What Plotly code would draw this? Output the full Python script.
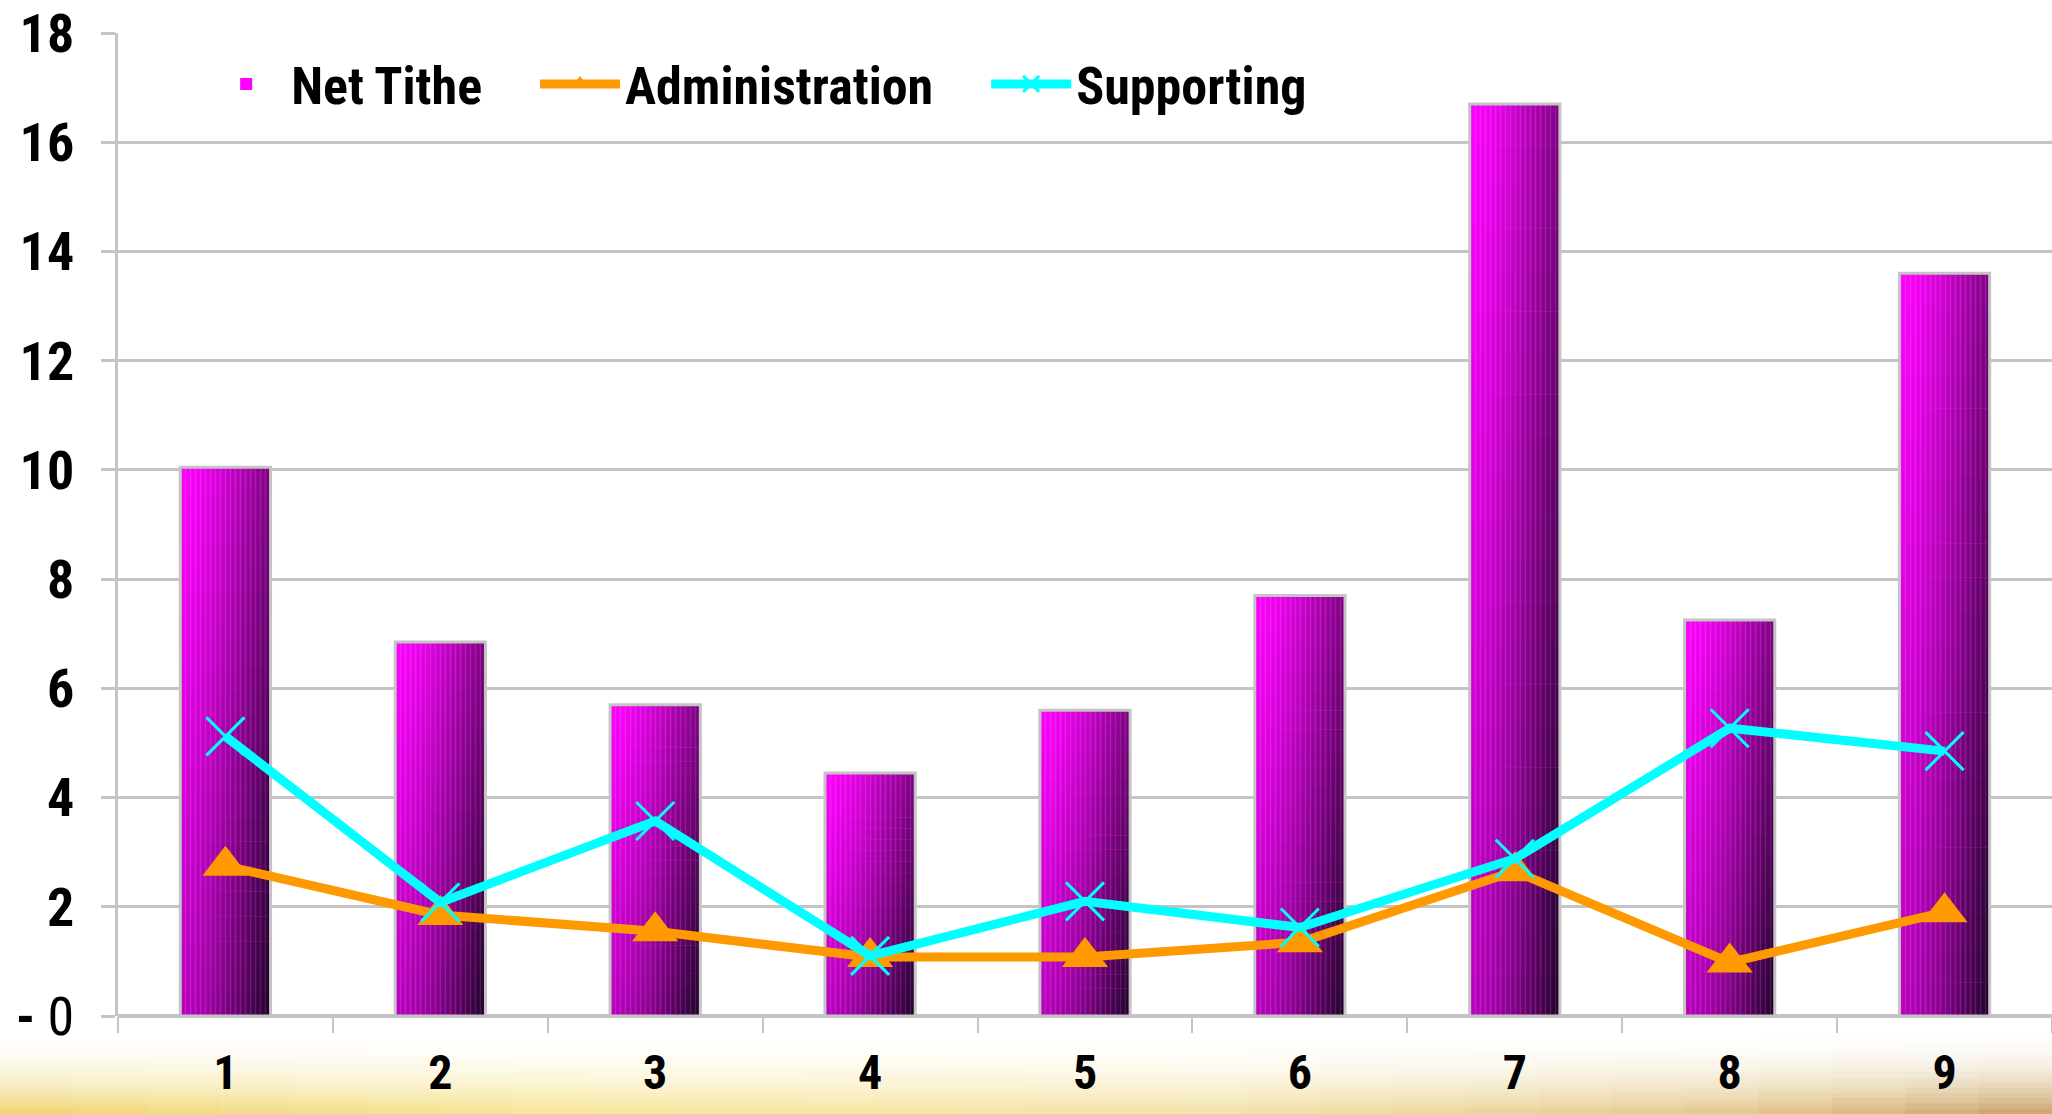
import plotly.graph_objects as go

# ---------------- data ----------------
categories = ["1", "2", "3", "4", "5", "6", "7", "8", "9"]
net_tithe = [10.05, 6.85, 5.7, 4.45, 5.6, 7.7, 16.7, 7.25, 13.6]
administration = [2.75, 1.85, 1.55, 1.08, 1.08, 1.35, 2.65, 0.98, 1.9]
supporting = [5.12, 2.08, 3.57, 1.1, 2.1, 1.62, 2.88, 5.27, 4.85]
y_tick_values = [0, 2, 4, 6, 8, 10, 12, 14, 16, 18]
y_tick_labels = ["<b>-</b> 0", "<b>2</b>", "<b>4</b>", "<b>6</b>", "<b>8</b>",
                 "<b>10</b>", "<b>12</b>", "<b>14</b>", "<b>16</b>", "<b>18</b>"]
series_names = ["Net Tithe", "Administration", "Supporting"]

# ---------------- style ----------------
FONT = "Roboto Condensed, Liberation Sans Narrow, Arial Narrow, Roboto, Liberation Sans, sans-serif"
GRID = "#c4c4c4"
BAR_W = 0.42
NX, NY = 16, 22
W, H = 2052, 1114
ML, MR, MT, MB = 118, 0, 33, 98
PAD = "\u00a0" * 4  # spacing after legend entries


def lerp(a, b, t):
    return tuple(a[k] + (b[k] - a[k]) * t for k in range(3))


def rgb(c):
    return "rgb(%d,%d,%d)" % tuple(int(round(v)) for v in c)


def bar_color(u, t):
    tl, tr = (255, 0, 255), (125, 0, 130)
    bl, br = (185, 0, 190), (28, 0, 38)
    ue = u ** 1.4
    top = lerp(tl, tr, ue)
    bot = lerp(bl, br, ue)
    return rgb(lerp(bot, top, t))


fig = go.Figure()

# gradient bars built from slices of each value
for j in range(NY):
    for i in range(NX):
        frac_base = j / NY
        fig.add_trace(go.Bar(
            x=categories,
            y=[v * (1 - frac_base) for v in net_tithe],
            base=[v * frac_base for v in net_tithe],
            width=BAR_W * (1 - i / NX),
            offset=-BAR_W / 2 + BAR_W * i / NX,
            marker=dict(color=bar_color((i + 0.5) / NX, (j + 0.5) / NY), line=dict(width=0)),
            name=series_names[0] + PAD,
            legendgroup="nt",
            showlegend=(i == 0 and j == NY - 1),
            hoverinfo="skip",
        ))

# texture + outline of bars
fig.add_trace(go.Bar(
    x=categories, y=net_tithe, width=BAR_W, offset=-BAR_W / 2,
    marker=dict(
        color="rgba(0,0,0,0)", line=dict(color=GRID, width=3),
        pattern=dict(shape="|", fgcolor="white", fgopacity=0.12, size=5,
                     solidity=0.3, fillmode="overlay"),
    ),
    showlegend=False, legendgroup="nt", name=series_names[0],
))

fig.add_trace(go.Scatter(
    x=categories, y=administration, name=series_names[1] + PAD, mode="lines+markers",
    line=dict(color="#ff9900", width=9),
    marker=dict(symbol="triangle-up", size=40, color="#ff9900"),
))
fig.add_trace(go.Scatter(
    x=categories, y=supporting, name=series_names[2], mode="lines+markers",
    line=dict(color="#00ffff", width=9),
    marker=dict(symbol="x-thin", size=38, color="#00ffff", line=dict(color="#00ffff", width=3)),
))

# bottom decorative band
shapes = []
xstops = [(0.0, (238, 212, 110)), (0.3, (247, 230, 150)), (0.6, (242, 225, 165)),
          (0.85, (226, 198, 135)), (1.0, (200, 160, 100))]


def bottom_col(xf):
    for k in range(len(xstops) - 1):
        x0, c0 = xstops[k]
        x1, c1 = xstops[k + 1]
        if xf <= x1:
            return lerp(c0, c1, (xf - x0) / (x1 - x0))
    return xstops[-1][1]


NCOL, NROW = 28, 16
top_px, bot_px = 1030, H
plot_w = W - ML - MR
plot_h = H - MT - MB
for r in range(NROW):
    y0px = top_px + (bot_px - top_px) * r / NROW
    y1px = top_px + (bot_px - top_px) * (r + 1) / NROW + 1
    t = ((r + 0.5) / NROW) ** 2.0
    for c in range(NCOL):
        x0px = W * c / NCOL
        x1px = W * (c + 1) / NCOL + 1
        col = lerp((255, 255, 255), bottom_col((c + 0.5) / NCOL), t)
        shapes.append(dict(
            type="rect", xref="paper", yref="paper", layer="below",
            x0=(x0px - ML) / plot_w, x1=(x1px - ML) / plot_w,
            y0=(H - MB - y0px) / plot_h, y1=(H - MB - y1px) / plot_h,
            fillcolor=rgb(col), line=dict(width=0),
        ))

fig.update_layout(
    width=W, height=H,
    margin=dict(l=ML, r=MR, t=MT, b=MB, pad=0),
    paper_bgcolor="white", plot_bgcolor="white",
    barmode="overlay",
    shapes=shapes,
    font=dict(family=FONT, color="black"),
    legend=dict(
        orientation="h", x=0.043, y=0.948, xanchor="left", yanchor="middle",
        font=dict(family=FONT, size=52, color="black", weight="bold"),
        bgcolor="rgba(0,0,0,0)", itemwidth=80,
    ),
    xaxis=dict(
        type="category", range=[-0.5, 8.5], tickson="boundaries", automargin=False,
        ticks="outside", ticklen=16, tickwidth=2, tickcolor=GRID,
        showgrid=False, showline=False, zeroline=False,
        tickfont=dict(family=FONT, size=48, color="black", weight="bold"),
        ticklabelstandoff=24,
    ),
    yaxis=dict(
        range=[0, 18], tickmode="array", tickvals=y_tick_values, ticktext=y_tick_labels,
        automargin=False,
        ticks="outside", ticklen=14, tickwidth=3, tickcolor=GRID,
        showgrid=True, gridcolor=GRID, gridwidth=3,
        showline=True, linecolor=GRID, linewidth=3,
        zeroline=True, zerolinecolor=GRID, zerolinewidth=4,
        tickfont=dict(family=FONT, size=54, color="black"),
        ticklabelstandoff=16,
    ),
)

fig.write_html("out.html")
